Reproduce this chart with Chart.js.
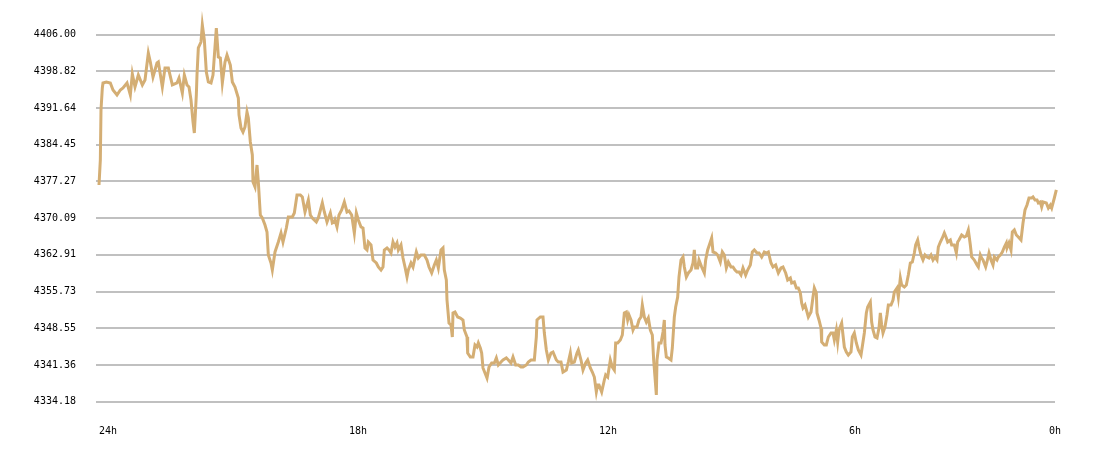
<!DOCTYPE html>
<html>
<head>
<meta charset="utf-8">
<title>24h price</title>
<script src="https://cdn.jsdelivr.net/npm/chart.js@4.4.1/dist/chart.umd.min.js"></script>
<style>
  html, body { margin: 0; padding: 0; background: #fff; }
  #wrap { width: 1100px; height: 458px; }
</style>
</head>
<body>
<div id="wrap"><canvas id="price-chart" width="1100" height="458"></canvas></div>
<script>
// minutes since the start of the 24h window
var minutes = [
    0, 2, 3, 5, 6, 11, 17, 21, 27, 32, 36, 42, 47, 50, 54, 59, 65, 69, 74, 77,
    81, 87, 89, 95, 99, 104, 110, 117, 120, 125, 128, 132, 135, 138, 141, 143, 146, 147, 149, 153,
    155, 158, 161, 164, 168, 171, 176, 179, 182, 185, 189, 192, 197, 200, 204, 209, 210, 213, 216, 219,
    222, 224, 227, 230, 231, 234, 237, 239, 242, 245, 249, 252, 254, 258, 260, 264, 269, 273, 276, 281,
    284, 290, 293, 297, 302, 305, 309, 314, 317, 320, 326, 329, 335, 338, 342, 347, 350, 353,
    354, 357, 360, 364, 368, 372, 375, 379, 383, 386, 389, 393, 396, 399, 402, 404, 408, 411, 416, 419,
    423, 426, 428, 432, 435, 438, 441, 444, 447, 449, 453, 456, 459, 462, 464, 468, 471, 476, 479, 483,
    488, 492, 495, 499, 503, 506, 509, 513, 516, 518, 521, 522, 525, 528, 530, 531, 534, 538, 542, 546,
    548, 552, 553, 557, 561, 564, 567, 569, 572, 574, 576, 579, 582, 585, 589, 593, 596, 599, 603, 606,
    611, 614, 618, 621, 625, 629, 633, 636, 641, 644, 648, 653, 656, 657, 662, 666, 668, 671, 674, 678,
    681, 686, 689, 693, 696, 701, 704, 707,
    709, 713, 717, 719, 723, 726, 730, 733, 737, 740, 743, 746, 748, 750, 754, 758, 760, 763, 767, 770,
    773, 775, 778, 782, 785, 788, 791, 793, 795, 798, 801, 803, 807, 810, 813, 815, 818, 821, 824, 827,
    830, 832, 834, 836, 837, 840, 843, 846, 848, 849, 851, 854, 858, 860, 863, 865, 868, 870, 873, 876,
    878, 881, 884, 888, 891, 893, 895, 898, 900, 904, 908, 910, 913, 917, 919, 921, 925, 928, 932, 935,
    938, 941, 944, 948, 951, 954, 957, 960, 963, 966, 970, 973, 977, 980, 983, 987, 990, 994, 998, 1001,
    1004, 1008, 1011, 1015, 1019, 1023, 1026, 1030, 1033, 1037, 1039, 1043, 1046, 1049, 1052, 1054, 1056, 1059,
    1062, 1064, 1068, 1071, 1073, 1076, 1077, 1080, 1083, 1084, 1088, 1091, 1094, 1098, 1101, 1103, 1106, 1108, 1110, 1114,
    1118, 1121, 1124, 1128, 1130, 1133, 1136, 1139, 1143, 1146, 1148, 1151, 1153, 1157, 1159, 1161, 1164, 1167, 1170, 1172,
    1174, 1176, 1179, 1182, 1184, 1188, 1191, 1193, 1197, 1199, 1202, 1204, 1208, 1211, 1214, 1217, 1220, 1223, 1225, 1228,
    1230, 1233, 1236, 1239, 1242, 1245, 1248, 1251, 1254, 1257, 1259, 1262, 1265, 1268, 1271, 1273, 1277, 1279, 1283, 1286,
    1288, 1290, 1294, 1298, 1301, 1304, 1307, 1309, 1313, 1317, 1319, 1322, 1324, 1326, 1330, 1332, 1335, 1338, 1341, 1343,
    1347, 1349, 1352, 1355, 1358, 1361, 1362, 1365, 1368, 1370, 1373, 1376, 1379, 1383, 1386, 1389, 1392, 1395, 1399, 1401,
    1404, 1407, 1409, 1412, 1414, 1416, 1421, 1424, 1427, 1429, 1433, 1436, 1437, 1440
];

var prices = [
    4376.59, 4381.48, 4391.26, 4395.57, 4396.55, 4396.74, 4396.55, 4395.18, 4394.20, 4395.18,
    4395.57, 4396.55, 4394.20, 4398.31, 4395.77, 4398.11, 4396.16, 4397.14, 4402.42, 4400.66,
    4397.72, 4400.46, 4400.66, 4395.77, 4399.48, 4399.48, 4396.16, 4396.55, 4397.53, 4394.59,
    4398.11, 4396.16, 4395.77, 4393.22, 4388.92, 4386.76, 4394.20, 4398.11, 4403.40, 4404.57,
    4407.90, 4404.96, 4398.70, 4396.74, 4396.55, 4398.11, 4407.31, 4401.64, 4401.44, 4396.55,
    4400.66, 4402.03, 4400.07, 4396.74, 4395.77, 4393.61, 4390.29, 4387.74, 4386.96, 4387.94,
    4390.87, 4389.70, 4385.00, 4382.46, 4377.17, 4376.20, 4380.50, 4377.17, 4370.72, 4370.13,
    4368.76, 4367.39, 4362.89, 4361.32, 4359.95, 4363.48, 4365.43, 4367.19, 4365.43, 4368.17,
    4370.33, 4370.33, 4371.11, 4374.63, 4374.63, 4374.24, 4371.30, 4373.65, 4370.72, 4370.13,
    4369.35, 4370.13, 4373.07, 4371.30, 4369.35, 4371.11, 4369.15, 4369.35,
    4369.74, 4368.37, 4370.72, 4371.70, 4373.26, 4371.30, 4371.50, 4370.72, 4367.19, 4371.11,
    4369.74, 4368.37, 4368.17, 4364.26, 4363.87, 4365.43, 4364.85, 4361.91, 4361.32, 4360.54,
    4359.95, 4360.54, 4363.87, 4364.26, 4363.87, 4363.28, 4365.43, 4364.45, 4365.24, 4363.87,
    4364.85, 4362.30, 4360.54, 4358.58, 4359.95, 4361.32, 4360.54, 4363.48, 4362.30, 4362.89,
    4362.89, 4361.91, 4360.54, 4359.37, 4360.93, 4361.91, 4360.35, 4363.87, 4364.26, 4359.95,
    4358.00, 4354.08, 4349.58, 4349.19, 4346.84, 4351.54, 4351.73, 4350.76, 4350.56, 4350.17,
    4348.21, 4346.84, 4343.71, 4342.93, 4342.93, 4345.28, 4344.88, 4345.67, 4344.69, 4343.71,
    4340.78, 4339.80, 4338.82, 4340.97, 4341.75, 4341.75, 4342.73, 4341.36, 4341.95, 4342.34,
    4342.73, 4342.34, 4341.75, 4342.93, 4341.36, 4341.36, 4340.97, 4340.97, 4341.36, 4341.95,
    4342.34, 4342.34, 4346.84, 4350.17, 4350.76, 4350.76, 4347.62, 4344.30, 4342.34, 4343.71,
    4343.91, 4342.34, 4341.95, 4341.95, 4339.99, 4340.38, 4341.95, 4343.71,
    4341.75, 4341.95, 4343.71, 4344.30, 4342.34, 4340.38, 4341.75, 4342.34, 4340.78, 4339.99,
    4339.01, 4336.08, 4337.45, 4337.45, 4336.08, 4338.43, 4339.41, 4339.01, 4342.34, 4340.97,
    4340.38, 4345.67, 4345.67, 4346.25, 4347.23, 4351.54, 4351.73, 4350.17, 4351.15, 4350.17,
    4348.21, 4348.80, 4348.80, 4350.17, 4350.76, 4353.10, 4350.76, 4349.78, 4350.56, 4348.21,
    4347.23, 4342.34, 4339.01, 4335.49, 4342.34, 4345.67, 4345.67, 4347.82, 4350.17, 4345.28,
    4342.93, 4342.73, 4342.34, 4344.69, 4350.76, 4352.71, 4354.67, 4358.58, 4361.91, 4362.50,
    4360.54, 4358.58, 4359.37, 4359.95, 4361.32, 4363.87, 4360.35, 4360.35, 4361.91, 4360.54,
    4359.37, 4361.91, 4363.87, 4365.43, 4366.22, 4363.48, 4363.28, 4362.89, 4361.52, 4363.48,
    4362.89, 4360.35, 4361.52, 4360.54, 4360.54, 4359.95, 4359.56, 4359.56, 4358.97, 4360.35,
    4358.97, 4359.95, 4360.93, 4363.48, 4363.87, 4363.28, 4363.28, 4362.50, 4363.48, 4363.28,
    4363.48, 4361.32, 4360.54, 4360.93, 4359.37, 4360.35, 4360.54, 4359.37, 4358.00, 4358.39,
    4357.41, 4357.60, 4356.43, 4356.43, 4355.45, 4353.50, 4352.52, 4353.10,
    4351.73, 4350.76, 4351.73, 4354.67, 4356.43, 4355.45, 4351.54, 4350.17, 4348.60, 4345.86,
    4345.28, 4345.28, 4346.84, 4347.62, 4347.62, 4346.25, 4348.21, 4345.86, 4348.21, 4349.58,
    4344.88, 4343.91, 4343.32, 4343.91, 4346.84, 4347.62, 4345.67, 4344.30, 4343.32, 4345.86,
    4347.62, 4351.54, 4352.71, 4353.69, 4349.78, 4348.21, 4346.84, 4346.65, 4348.60, 4351.54,
    4349.19, 4347.62, 4348.80, 4351.15, 4353.10, 4353.10, 4354.08, 4355.65, 4356.43, 4354.67,
    4358.39, 4357.02, 4356.63, 4357.02, 4358.97, 4361.32, 4361.52, 4363.28, 4364.85, 4365.82,
    4364.45, 4362.89, 4361.91, 4362.89, 4362.50, 4362.30, 4362.89, 4361.91, 4362.50, 4361.91,
    4364.45, 4365.43, 4366.22, 4367.19, 4366.22, 4365.43, 4365.82, 4364.85, 4364.85, 4363.28,
    4365.43, 4365.82, 4366.80, 4366.41, 4366.61, 4367.78, 4364.85, 4362.50, 4361.91, 4360.93,
    4360.54, 4362.89, 4362.30, 4361.91, 4360.54, 4361.52, 4363.28, 4361.91, 4360.93, 4362.50,
    4361.91, 4362.50, 4362.89, 4363.48, 4364.45, 4365.24, 4364.26, 4365.24, 4363.87, 4367.39,
    4367.78, 4366.80, 4366.41, 4365.82, 4369.15, 4371.70, 4372.67, 4374.04, 4374.04, 4374.24,
    4373.65, 4373.65, 4373.07, 4373.26, 4372.28, 4373.26, 4373.07, 4372.09, 4372.67, 4372.09,
    4374.04, 4375.61, 4377.57, 4378.94
];

var yTicks = [4334.18, 4341.36, 4348.55, 4355.73, 4362.91, 4370.09, 4377.27, 4384.45, 4391.64, 4398.82, 4406.00];
var xTickPos = [13.5, 388.5, 763.5, 1134, 1434];
var xTickLabels = ['24h', '18h', '12h', '6h', '0h'];

/******************************  Chart  ******************************/
Chart.defaults.font.family = "'DejaVu Sans Mono', monospace";
Chart.defaults.font.size = 10;
Chart.defaults.color = '#000';

var points = [];
for (var i = 0; i < minutes.length; i++) {
    points.push({ x: minutes[i], y: prices[i] });
}

var ctx = document.getElementById('price-chart');
var priceChart = new Chart(ctx, {
    type: 'line',
    data: {
        datasets: [{
            label: 'Price',
            data: points,
            borderColor: 'rgb(212, 174, 116)',
            borderWidth: 3,
            pointRadius: 0,
            tension: 0,
            fill: false,
            clip: false
        }]
    },
    options: {
        responsive: false,
        animation: false,
        events: [],
        layout: {
            padding: { top: 14.7, right: 45, bottom: 0, left: 0 }
        },
        plugins: {
            legend: { display: false },
            tooltip: { enabled: false }
        },
        scales: {
            x: {
                type: 'linear',
                min: -4.5,
                max: 1434,
                grid: { display: false, drawTicks: false },
                border: { display: false },
                ticks: {
                    padding: 24,
                    autoSkip: false,
                    maxRotation: 0,
                    callback: function(value, index) { return xTickLabels[index]; }
                },
                afterBuildTicks: function(scale) {
                    scale.ticks = xTickPos.map(function(v) { return { value: v }; });
                },
                afterFit: function(scale) {
                    scale.height = 56.3;
                    scale.paddingLeft = 0;
                    scale.paddingRight = 0;
                }
            },
            y: {
                min: 4334.18,
                max: 4409.91,
                grid: { color: '#c0c0c0', lineWidth: 2, drawTicks: false },
                border: { display: false },
                ticks: {
                    padding: 20,
                    callback: function(value) { return value.toFixed(2); }
                },
                afterBuildTicks: function(scale) {
                    scale.ticks = yTicks.map(function(v) { return { value: v }; });
                },
                afterFit: function(scale) {
                    scale.width = 96;
                    scale.paddingTop = 0;
                    scale.paddingBottom = 0;
                }
            }
        }
    }
});
</script>
</body>
</html>
